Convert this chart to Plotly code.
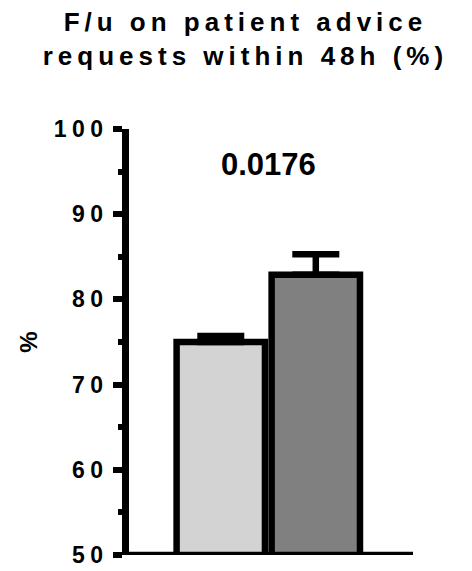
import plotly.graph_objects as go

# Follow-up on patient advice requests answered within 48 h
groups = ["Group 1", "Group 2"]
means = [75.0, 82.9]
sem_up = [0.7, 2.4]
fills = ["#D3D3D3", "#808080"]
p_value = "0.0176"

y_ticks = [50, 60, 70, 80, 90, 100]
y_tick_text = [str(v) for v in y_ticks]

FONT = "Arial, Liberation Sans, sans-serif"


def spaced(text, px):
    return f"<span style='letter-spacing:{px}px'>{text}</span>"


fig = go.Figure(
    go.Bar(
        x=groups,
        y=means,
        marker=dict(color=fills, line=dict(color="black", width=6.5)),
        error_y=dict(
            type="data",
            symmetric=False,
            array=sem_up,
            arrayminus=[0] * len(sem_up),
            color="black",
            thickness=6.5,
            width=23.5,
        ),
        width=0.93,
        showlegend=False,
    )
)

# baseline of the chart drawn at the bottom of the value scale
fig.add_shape(
    type="line", xref="paper", yref="y",
    x0=0, x1=1, y0=y_ticks[0], y1=y_ticks[0],
    line=dict(color="black", width=6.5),
)

fig.add_annotation(
    x=0.5, y=95.8, xref="x", yref="y",
    text=f"<b>{p_value}</b>", showarrow=False,
    font=dict(family=FONT, size=31, color="black"),
    xanchor="center", yanchor="middle",
)

fig.update_layout(
    width=472, height=571,
    margin=dict(l=129, r=59, t=129, b=16, pad=0),
    paper_bgcolor="white", plot_bgcolor="white",
    title=dict(
        text=spaced("F/u on patient advice", 5) + "<br>" + spaced("requests within 48h (%)", 5),
        x=0.52, xanchor="center",
        y=0.945, yref="container", yanchor="top",
        font=dict(family=FONT, size=26, color="black", weight="bold"),
    ),
    xaxis=dict(
        range=[-0.966, 2.023],
        showline=False, showgrid=False, zeroline=False,
        showticklabels=False, ticks="",
    ),
    yaxis=dict(
        range=[50, 100],
        tickvals=y_ticks,
        ticktext=[spaced(t, 5.5) for t in y_tick_text],
        ticks="outside", ticklen=9, tickwidth=6, tickcolor="black",
        minor=dict(dtick=5, ticks="outside", ticklen=4, tickwidth=6, tickcolor="black"),
        showline=True, linewidth=6.5, linecolor="black",
        showgrid=False, zeroline=False,
        tickfont=dict(family=FONT, size=23, color="black", weight="bold"),
        title=dict(text="%", standoff=12,
                   font=dict(family=FONT, size=24, color="black", weight="bold")),
        automargin=False,
    ),
)

fig.write_html("out.html")
